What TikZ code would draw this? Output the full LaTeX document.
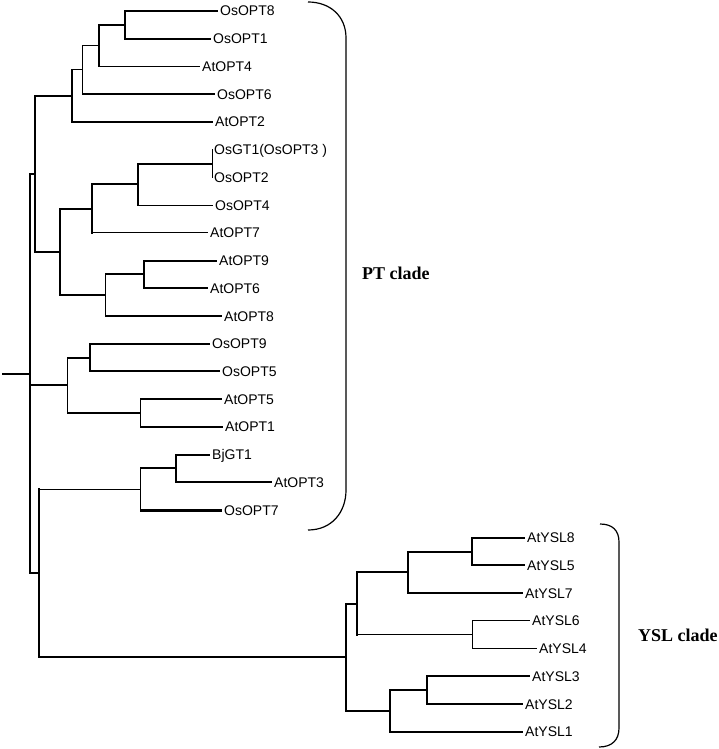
\documentclass[tikz,border=0pt]{standalone}
\usepackage{fontspec}
\setmainfont{Liberation Serif}
\newfontfamily\leaffont{Liberation Sans}
\begin{document}
\begin{tikzpicture}[x=1pt, y=-1pt,
        branch/.style={line width=2pt},
        twig/.style={line width=1pt},
        stalk/.style={line width=3pt},
        leaf/.style={anchor=west, inner sep=2pt, text height=10pt, text depth=0pt,
            font=\leaffont\fontsize{14}{16}\selectfont},
        clade/.style={anchor=west, inner sep=0pt, font=\bfseries\fontsize{18}{20}\selectfont}]
    \useasboundingbox (0, 0) rectangle (718, 749);
    % inner nodes of the tree
    \coordinate (stem) at (2, 373.7);
    \coordinate (A) at (30, 373.7);
    \coordinate (B) at (35, 174);
    \coordinate (C) at (67, 385.3);
    \coordinate (D) at (39, 573.3);
    \coordinate (E) at (72, 96);
    \coordinate (F) at (60, 251.9);
    \coordinate (G) at (82, 70);
    \coordinate (H) at (99, 45.7);
    \coordinate (I) at (125, 24.9);
    \coordinate (J) at (212, 163.5);
    \coordinate (K) at (138, 184.2);
    \coordinate (L) at (92, 208.5);
    \coordinate (M) at (144, 274.4);
    \coordinate (N) at (105, 295.2);
    \coordinate (O) at (90, 357.6);
    \coordinate (P) at (140, 413);
    \coordinate (Q) at (176, 468.4);
    \coordinate (R) at (140, 489.2);
    \coordinate (S) at (472, 551.6);
    \coordinate (T) at (408, 572.4);
    \coordinate (U) at (472, 634.7);
    \coordinate (V) at (357, 603.6);
    \coordinate (W) at (427, 690.2);
    \coordinate (X) at (390, 711);
    \coordinate (Y) at (346, 657.3);
    % leaves
    \node [leaf] (OsOPT8) at (218, 11) {OsOPT8};
    \node [leaf] (OsOPT1) at (211, 38.7) {OsOPT1};
    \node [leaf] (AtOPT4) at (200, 66.5) {AtOPT4};
    \node [leaf] (OsOPT6) at (215, 94.2) {OsOPT6};
    \node [leaf] (AtOPT2) at (213, 121.9) {AtOPT2};
    \node [leaf] (OsGT1) at (212, 149.6) {OsGT1(OsOPT3 )};
    \node [leaf] (OsOPT2) at (212, 177.3) {OsOPT2};
    \node [leaf] (OsOPT4) at (213, 205) {OsOPT4};
    \node [leaf] (AtOPT7) at (208, 232.8) {AtOPT7};
    \node [leaf] (AtOPT9) at (217, 260.5) {AtOPT9};
    \node [leaf] (AtOPT6) at (208, 288.2) {AtOPT6};
    \node [leaf] (AtOPT8) at (222, 316) {AtOPT8};
    \node [leaf] (OsOPT9) at (210, 343.7) {OsOPT9};
    \node [leaf] (OsOPT5) at (220, 371.4) {OsOPT5};
    \node [leaf] (AtOPT5) at (222, 399.1) {AtOPT5};
    \node [leaf] (AtOPT1) at (223, 426.8) {AtOPT1};
    \node [leaf] (BjGT1) at (210, 454.5) {BjGT1};
    \node [leaf] (AtOPT3) at (272, 482.3) {AtOPT3};
    \node [leaf] (OsOPT7) at (222, 510) {OsOPT7};
    \node [leaf] (AtYSL8) at (525, 537.7) {AtYSL8};
    \node [leaf] (AtYSL5) at (525, 565.4) {AtYSL5};
    \node [leaf] (AtYSL7) at (523, 593.1) {AtYSL7};
    \node [leaf] (AtYSL6) at (530, 620.8) {AtYSL6};
    \node [leaf] (AtYSL4) at (537, 648.6) {AtYSL4};
    \node [leaf] (AtYSL3) at (530, 676.3) {AtYSL3};
    \node [leaf] (AtYSL2) at (523, 704) {AtYSL2};
    \node [leaf] (AtYSL1) at (523, 731.7) {AtYSL1};
    % vertical bars
    \foreach \p/\hi/\lo in {A/B/D, B/E/F, E/G/AtOPT2, H/I/AtOPT4, I/OsOPT8/OsOPT1,
            K/J/OsOPT4, L/K/AtOPT7, M/AtOPT9/AtOPT6, F/L/N, O/OsOPT9/OsOPT5,
            Q/BjGT1/AtOPT3, D/R/Y, Y/V/X, V/T/U, T/S/AtYSL7, S/AtYSL8/AtYSL5,
            X/W/AtYSL1, W/AtYSL3/AtYSL2}
        \draw [branch, line cap=rect] (\p |- \hi) -- (\p |- \lo);
    \foreach \p/\hi/\lo in {G/H/OsOPT6, J/OsGT1/OsOPT2, N/M/AtOPT8, C/O/P,
            P/AtOPT5/AtOPT1, R/Q/OsOPT7, U/AtYSL6/AtYSL4}
        \draw [twig, line cap=rect] (\p |- \hi) -- (\p |- \lo);
    % horizontal branches
    \draw [branch] (stem) -- (A);
    \foreach \p/\c in {A/B, A/C, A/D, B/E, B/F, E/AtOPT2, G/OsOPT6, H/I,
            I/OsOPT8, I/OsOPT1, F/L, F/N, L/K, K/J, N/M, N/AtOPT8, M/AtOPT9,
            M/AtOPT6, C/O, C/P, O/OsOPT9, O/OsOPT5, P/AtOPT5, P/AtOPT1, D/Y,
            R/Q, Q/BjGT1, Q/AtOPT3, Y/V, Y/X, V/T, T/S, T/AtYSL7, S/AtYSL8,
            S/AtYSL5, X/W, X/AtYSL1, W/AtYSL3, W/AtYSL2}
        \draw [branch] (\p |- \c) -- (\c);
    \foreach \p/\c in {E/G, G/H, H/AtOPT4, K/OsOPT4, L/AtOPT7, D/R, V/U,
            U/AtYSL6, U/AtYSL4}
        \draw [twig] (\p |- \c) -- (\c);
    \draw [stalk] (R |- OsOPT7) -- (OsOPT7);
    % clade brackets
    \draw [line width=1.2pt] (308, 2) .. controls (330, 2) and (346, 16) .. (346, 38)
        -- (346, 490) .. controls (346, 512) and (332, 530) .. (308, 530);
    \draw [line width=1.2pt] (600, 524) .. controls (612, 524) and (619, 530) .. (619, 542)
        -- (619, 728) .. controls (619, 740) and (612, 747) .. (599, 747);
    \node [clade] (ptlab) at (362, 273) {PT clade};
    \node [clade] (ysllab) at (638, 635) {YSL clade};
\end{tikzpicture}
\end{document}
